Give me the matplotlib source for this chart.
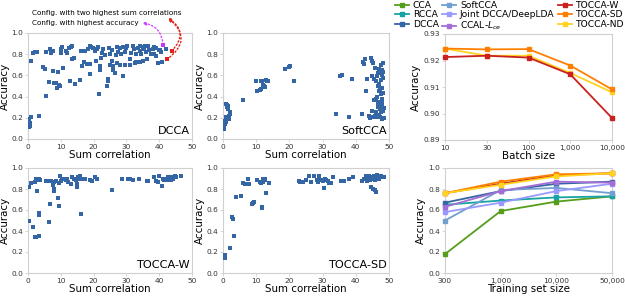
import numpy as np
import matplotlib
matplotlib.use("Agg")
import matplotlib.pyplot as plt
from matplotlib.ticker import FormatStrFormatter

# scatter data: (sum correlation, accuracy)
dcca_pts = [
    (0.3, 0.19), (0.5, 0.15), (0.3, 0.13), (0.3, 0.11), (0.5, 0.12), (0.8, 0.21), (3.3, 0.22),
    (1.0, 0.74), (1.6, 0.81), (2.0, 0.82), (2.6, 0.82), (4.6, 0.68), (5.2, 0.66), (5.6, 0.41),
    (5.4, 0.82), (6.5, 0.54), (6.8, 0.85), (7.0, 0.81), (7.5, 0.83), (7.6, 0.64), (8.0, 0.53),
    (8.5, 0.53), (8.7, 0.48), (9.0, 0.63), (9.5, 0.51), (9.8, 0.50), (10.0, 0.81), (10.0, 0.85),
    (10.5, 0.87), (10.8, 0.67), (11.5, 0.83), (12.0, 0.81), (12.5, 0.86), (12.8, 0.55),
    (13.2, 0.87), (13.5, 0.88), (13.5, 0.75), (14.0, 0.76), (14.3, 0.52), (16.0, 0.56),
    (16.3, 0.83), (16.5, 0.69), (17.0, 0.73), (17.5, 0.83), (18.0, 0.71), (18.2, 0.85),
    (18.8, 0.88), (19.0, 0.71), (19.0, 0.61), (19.3, 0.87), (19.7, 0.86), (20.3, 0.83),
    (20.6, 0.74), (21.0, 0.85), (21.3, 0.87), (21.5, 0.42), (22.0, 0.69), (22.0, 0.65),
    (22.4, 0.76), (22.7, 0.81), (23.0, 0.85), (23.5, 0.79), (24.0, 0.50), (24.3, 0.55),
    (24.5, 0.57), (24.6, 0.86), (25.0, 0.70), (25.0, 0.80), (25.5, 0.74), (25.5, 0.84),
    (26.0, 0.69), (26.0, 0.65), (26.5, 0.62), (26.8, 0.79), (27.0, 0.87), (27.0, 0.72),
    (27.5, 0.82), (28.0, 0.86), (28.0, 0.70), (28.5, 0.80), (29.0, 0.59), (29.0, 0.87),
    (29.5, 0.82), (29.5, 0.70), (30.0, 0.86), (30.2, 0.88), (31.0, 0.75), (31.0, 0.70),
    (31.5, 0.81), (32.0, 0.88), (32.3, 0.85), (32.5, 0.72), (33.0, 0.80), (33.0, 0.73),
    (33.5, 0.86), (34.0, 0.88), (34.0, 0.83), (34.2, 0.73), (34.5, 0.80), (35.0, 0.87),
    (35.0, 0.74), (35.5, 0.85), (35.7, 0.88), (36.0, 0.82), (36.3, 0.75), (37.0, 0.84),
    (37.5, 0.80), (38.0, 0.85), (38.3, 0.80), (39.0, 0.78), (39.0, 0.86), (39.5, 0.72),
    (40.0, 0.84), (40.3, 0.84), (41.0, 0.73), (42.0, 0.85), (40.5, 0.82), (36.5, 0.88),
    (38.5, 0.87),
]
dcca_best_acc = (41.2, 0.89)
dcca_best_corr = [(43.8, 0.83), (42.3, 0.75)]

softcca_pts = [
    (0.2, 0.09), (0.3, 0.11), (0.3, 0.13), (0.4, 0.12), (0.5, 0.15), (0.6, 0.14), (0.7, 0.17),
    (0.8, 0.16), (1.0, 0.18), (1.2, 0.19), (1.4, 0.20), (1.0, 0.21), (1.8, 0.22), (2.0, 0.24),
    (1.2, 0.30), (1.5, 0.28), (1.6, 0.31), (1.0, 0.33), (1.3, 0.32), (2.1, 0.25), (0.9, 0.16),
    (0.4, 0.10), (1.6, 0.21), (1.8, 0.19),
    (6.0, 0.37),
    (10.0, 0.55), (10.2, 0.45), (11.0, 0.46), (11.5, 0.47), (11.3, 0.55), (11.8, 0.55),
    (12.0, 0.51), (12.3, 0.50), (12.5, 0.49), (13.0, 0.56), (13.3, 0.55), (13.7, 0.55),
    (18.8, 0.66), (19.8, 0.68), (20.3, 0.69), (21.5, 0.55),
    (34.0, 0.24), (35.3, 0.59), (35.8, 0.60), (38.0, 0.21), (38.8, 0.57),
    (42.0, 0.24), (42.3, 0.73), (42.5, 0.71), (42.8, 0.75), (43.0, 0.45), (43.3, 0.57),
    (44.0, 0.22), (44.3, 0.20), (44.5, 0.76), (44.8, 0.74), (45.0, 0.59), (45.2, 0.21),
    (45.3, 0.72), (45.5, 0.57), (45.5, 0.37), (45.8, 0.67), (45.8, 0.22), (46.0, 0.38),
    (46.0, 0.55), (46.2, 0.25), (46.5, 0.40), (46.5, 0.59), (46.5, 0.21), (46.7, 0.62),
    (46.7, 0.30), (46.8, 0.50), (47.0, 0.52), (47.0, 0.45), (47.0, 0.23), (47.2, 0.62),
    (47.2, 0.35), (47.3, 0.28), (47.5, 0.70), (47.5, 0.56), (47.5, 0.32), (47.6, 0.42),
    (47.7, 0.25), (47.8, 0.60), (47.8, 0.19), (48.0, 0.65), (48.0, 0.48), (48.0, 0.30),
    (48.0, 0.38), (48.2, 0.72), (48.2, 0.58), (48.3, 0.63), (48.3, 0.26), (48.5, 0.20),
    (47.0, 0.66), (46.8, 0.34), (47.3, 0.47), (47.9, 0.34), (48.1, 0.43), (47.4, 0.21),
    (46.3, 0.23), (45.0, 0.26), (47.6, 0.27), (48.4, 0.29),
]

toccaw_pts = [
    (0.3, 0.82), (0.3, 0.50), (1.0, 0.86), (1.5, 0.44), (2.0, 0.87), (2.2, 0.34), (2.4, 0.34),
    (2.5, 0.90), (2.8, 0.78), (3.0, 0.89), (3.3, 0.55), (3.4, 0.57), (3.5, 0.35), (3.8, 0.89),
    (3.5, 0.90), (5.6, 0.88), (6.0, 0.88), (6.5, 0.88), (6.3, 0.49), (6.7, 0.66), (7.0, 0.88),
    (7.5, 0.84), (7.8, 0.87), (8.0, 0.80), (8.0, 0.78), (8.5, 0.88), (9.0, 0.71), (9.3, 0.86),
    (9.5, 0.64), (9.8, 0.92), (10.0, 0.88), (10.5, 0.90), (11.0, 0.90), (11.5, 0.89),
    (12.0, 0.90), (12.3, 0.87), (13.0, 0.85), (13.5, 0.91), (14.0, 0.90), (14.5, 0.89),
    (14.8, 0.82), (15.0, 0.85), (15.3, 0.91), (15.5, 0.90), (16.0, 0.92), (16.3, 0.56),
    (16.5, 0.90), (17.5, 0.90), (19.0, 0.89), (19.5, 0.88), (20.5, 0.91), (21.0, 0.90),
    (25.5, 0.79), (28.8, 0.90), (30.5, 0.90), (31.0, 0.90), (32.0, 0.89), (33.8, 0.90),
    (36.2, 0.88), (36.5, 0.88), (38.5, 0.91), (39.0, 0.88), (39.5, 0.87), (39.8, 0.92),
    (40.8, 0.83), (41.5, 0.89), (42.0, 0.90), (42.5, 0.89), (43.0, 0.90), (43.3, 0.91),
    (43.7, 0.89), (44.0, 0.91), (44.3, 0.90), (44.7, 0.92), (45.0, 0.91), (46.5, 0.92),
    (42.8, 0.91), (41.2, 0.90),
]

toccasd_pts = [
    (0.3, 0.17), (0.4, 0.15), (0.5, 0.14), (0.6, 0.16), (0.7, 0.17), (2.1, 0.24), (2.7, 0.53),
    (2.9, 0.51), (3.2, 0.35), (4.0, 0.72), (5.4, 0.73), (6.0, 0.86), (6.5, 0.85), (7.0, 0.85),
    (7.5, 0.90), (7.8, 0.85), (8.8, 0.66), (9.0, 0.67), (9.3, 0.68), (10.2, 0.89), (11.0, 0.87),
    (11.3, 0.86), (11.6, 0.62), (11.8, 0.63), (12.0, 0.90), (12.0, 0.87), (12.5, 0.89),
    (12.8, 0.90), (13.0, 0.76), (14.0, 0.86), (22.8, 0.88), (23.3, 0.87), (24.0, 0.87),
    (25.0, 0.89), (26.0, 0.92), (26.5, 0.87), (27.5, 0.92), (28.3, 0.89), (28.5, 0.87),
    (29.0, 0.92), (29.5, 0.89), (30.0, 0.88), (30.5, 0.81), (30.7, 0.90), (31.0, 0.89),
    (31.5, 0.88), (32.0, 0.86), (32.5, 0.86), (33.0, 0.91), (35.5, 0.88), (36.5, 0.88),
    (38.0, 0.90), (39.3, 0.91), (42.0, 0.88), (42.5, 0.90), (43.0, 0.92), (43.5, 0.90),
    (44.0, 0.92), (44.2, 0.89), (44.5, 0.82), (45.0, 0.91), (45.3, 0.80), (45.5, 0.92),
    (45.8, 0.79), (46.0, 0.91), (46.2, 0.77), (46.5, 0.93), (47.0, 0.90), (47.5, 0.92),
    (48.0, 0.91), (48.5, 0.91), (43.3, 0.88), (44.7, 0.90), (45.7, 0.89), (46.8, 0.92),
]

# batch size experiment
batch_labels = ["10", "30", "100", "1,000", "10,000"]
batch_tocca_w = [0.9213, 0.9218, 0.9211, 0.9148, 0.8983]
batch_tocca_sd = [0.9245, 0.9242, 0.9243, 0.9181, 0.9091]
batch_tocca_nd = [0.9245, 0.9218, 0.9218, 0.9153, 0.9080]

# training set size experiment
train_labels = ["300", "1,000", "10,000", "50,000"]
train_methods = ["CCA", "RCCA", "DCCA", "SoftCCA", "Joint DCCA/DeepLDA", r"CCAL-$L_{ce}$",
                 "TOCCA-W", "TOCCA-SD", "TOCCA-ND"]
train_acc = [
    [0.18, 0.59, 0.68, 0.73],
    [0.65, 0.69, 0.72, 0.73],
    [0.67, 0.78, 0.85, 0.87],
    [0.50, 0.79, 0.81, 0.76],
    [0.58, 0.67, 0.78, 0.85],
    [0.63, 0.78, 0.87, 0.86],
    [0.76, 0.85, 0.93, 0.95],
    [0.76, 0.87, 0.94, 0.95],
    [0.76, 0.84, 0.92, 0.95],
]
method_colors = ["#579d1c", "#17a3a3", "#3465a4", "#729fcf", "#9999ff", "#a36ed6",
                 "#c9211e", "#ff8000", "#ffd320"]

DOT = "#3465a4"
SPINE = "#d0d0d0"
TICK_FS = 5.3
LABEL_FS = 7.4


def style_axes(ax):
    for s in ax.spines.values():
        s.set_color(SPINE)
        s.set_linewidth(0.8)
    ax.tick_params(colors=SPINE, labelcolor="#333333", labelsize=TICK_FS,
                   length=2, width=0.6, pad=1.5)


def scatter_panel(ax, pts, name):
    pts = np.array(pts)
    ax.scatter(pts[:, 0], pts[:, 1], s=6, marker="s", color=DOT, linewidths=0, zorder=3)
    ax.set_xlim(0, 50)
    ax.set_ylim(0, 1.0)
    ax.set_xticks(np.arange(0, 51, 10))
    ax.set_yticks(np.arange(0, 1.01, 0.2))
    ax.yaxis.set_major_formatter(FormatStrFormatter("%.1f"))
    ax.set_ylabel("Accuracy", fontsize=LABEL_FS, labelpad=1)
    ax.set_xlabel("Sum correlation", fontsize=LABEL_FS, labelpad=0)
    ax.text(0.985, 0.025, name, transform=ax.transAxes, ha="right", va="bottom", fontsize=8.1)
    style_axes(ax)


fig = plt.figure(figsize=(6.25, 2.98), dpi=100)
W, H = 625, 298


def add_ax(left, top, right, bottom):
    return fig.add_axes([left / W, 1 - bottom / H, (right - left) / W, (bottom - top) / H])


ax_dcca = add_ax(28, 33, 192, 139)
ax_soft = add_ax(223, 33, 389, 139)
ax_batch = add_ax(445, 34, 612, 140)
ax_w = add_ax(28, 168, 192, 273)
ax_sd = add_ax(223, 168, 389, 273)
ax_train = add_ax(445, 168, 612, 273)

scatter_panel(ax_dcca, dcca_pts, "DCCA")
scatter_panel(ax_soft, softcca_pts, "SoftCCA")
scatter_panel(ax_w, toccaw_pts, "TOCCA-W")
scatter_panel(ax_sd, toccasd_pts, "TOCCA-SD")

# highlighted configurations
ax_dcca.scatter([dcca_best_acc[0]], [dcca_best_acc[1]], s=7, marker="s", color="#cc33ff",
                linewidths=0, zorder=4)
bc = np.array(dcca_best_corr)
ax_dcca.scatter(bc[:, 0], bc[:, 1], s=7, marker="s", color="#e0201a", linewidths=0, zorder=4)

fig.text(32 / W, 1 - 13 / H, "Config. with two highest sum correlations", fontsize=5.2,
         va="center", ha="left")
fig.text(32 / W, 1 - 23 / H, "Config. with highest accuracy", fontsize=5.2,
         va="center", ha="left")

ax_dcca.annotate("", xy=(142 / W, 1 - 23 / H), xycoords="figure fraction",
                 xytext=dcca_best_acc, textcoords="data", annotation_clip=False,
                 arrowprops=dict(arrowstyle="-|>", color="#cc44ff", ls=":", lw=1.0,
                                 mutation_scale=5, shrinkA=0, shrinkB=0,
                                 connectionstyle="arc3,rad=0.4"))
for p, rad in zip(dcca_best_corr, [0.6, 0.65]):
    ax_dcca.annotate("", xy=(168 / W, 1 - 18 / H), xycoords="figure fraction",
                     xytext=p, textcoords="data", annotation_clip=False,
                     arrowprops=dict(arrowstyle="-|>", color="#e0201a", ls=":", lw=1.0,
                                     mutation_scale=5, shrinkA=0, shrinkB=0,
                                     connectionstyle="arc3,rad=%s" % rad))

# batch size panel
xb = np.arange(len(batch_labels))
for vals, c in [(batch_tocca_nd, method_colors[8]), (batch_tocca_sd, method_colors[7]),
                (batch_tocca_w, method_colors[6])]:
    ax_batch.plot(xb, vals, color=c, lw=1.3, marker="s", ms=2.5, clip_on=False, zorder=3)
ax_batch.set_xlim(0, len(batch_labels) - 1)
ax_batch.set_ylim(0.89, 0.93)
ax_batch.set_xticks(xb)
ax_batch.set_xticklabels(batch_labels)
ax_batch.set_yticks([0.89, 0.90, 0.91, 0.92, 0.93])
ax_batch.yaxis.set_major_formatter(FormatStrFormatter("%.2f"))
ax_batch.set_xlabel("Batch size", fontsize=LABEL_FS, labelpad=0)
ax_batch.set_ylabel("Accuracy", fontsize=LABEL_FS, labelpad=2)
style_axes(ax_batch)

# training set size panel
xt = np.arange(len(train_labels))
handles = []
for name, vals, c in zip(train_methods, train_acc, method_colors):
    h, = ax_train.plot(xt, vals, color=c, lw=1.3, marker="s", ms=2.5, clip_on=False,
                       zorder=3, label=name)
    handles.append(h)
ax_train.set_xlim(0, len(train_labels) - 1)
ax_train.set_ylim(0, 1.0)
ax_train.set_xticks(xt)
ax_train.set_xticklabels(train_labels)
ax_train.set_yticks(np.arange(0, 1.01, 0.2))
ax_train.yaxis.set_major_formatter(FormatStrFormatter("%.1f"))
ax_train.set_xlabel("Training set size", fontsize=LABEL_FS, labelpad=0)
ax_train.set_ylabel("Accuracy", fontsize=LABEL_FS, labelpad=2)
style_axes(ax_train)

fig.legend(handles=handles, ncol=3, loc="upper right", bbox_to_anchor=(1.0, 1.0),
           fontsize=6.6, frameon=False, handlelength=1.5, handletextpad=0.4,
           columnspacing=0.4, labelspacing=0.05, borderaxespad=0.0, borderpad=0.1)

fig.savefig("out.png", dpi=100)
